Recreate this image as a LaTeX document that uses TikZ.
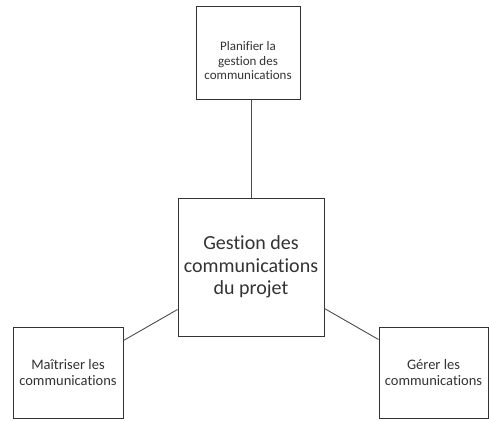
\documentclass[tikz,border=0pt]{standalone}
\usepackage{fontspec}
\setmainfont{Carlito}[Ligatures={NoCommon}]
\begin{document}
\begin{tikzpicture}[x=1pt,y=-1pt,
  box/.style={draw=black!80, line width=1pt, fill=white, inner sep=0pt, align=center, text=black!80},
  link/.style={draw=black!70, line width=0.9pt},
  small/.style={font=\fontsize{13}{14.5}\selectfont},
  medium/.style={font=\fontsize{14.5}{16}\selectfont},
  big/.style={font=\fontsize{20}{22.5}\selectfont}]
\useasboundingbox (0,0) rectangle (489,420);
% central process box
\node[box, big, minimum width=146pt, minimum height=138pt] (ctr) at (251,267)
  {Gestion des\\communications\\du projet};
% planning box on top, text sits a little low
\node[box, minimum width=104pt, minimum height=92pt,
  label={[small, align=center, text=black!80, yshift=-8pt]center:Planifier la\\gestion des\\communications}] (plan) at (248,53) {};
% lower left and lower right boxes
\node[box, medium, minimum width=110pt, minimum height=91pt] (ctrl) at (68,372.5)
  {Maîtriser les\\communications};
\node[box, medium, minimum width=109pt, minimum height=91pt] (mgmt) at (433.5,372.5)
  {Gérer les\\communications};
% connectors
\draw[link] (ctr.north) -- (ctr.north |- plan.south);
\draw[link] ([yshift=27pt]ctr.south west) -- ([yshift=-14pt]ctrl.north east);
\draw[link] ([yshift=28pt]ctr.south east) -- ([yshift=-13pt]mgmt.north west);
\end{tikzpicture}
\end{document}
